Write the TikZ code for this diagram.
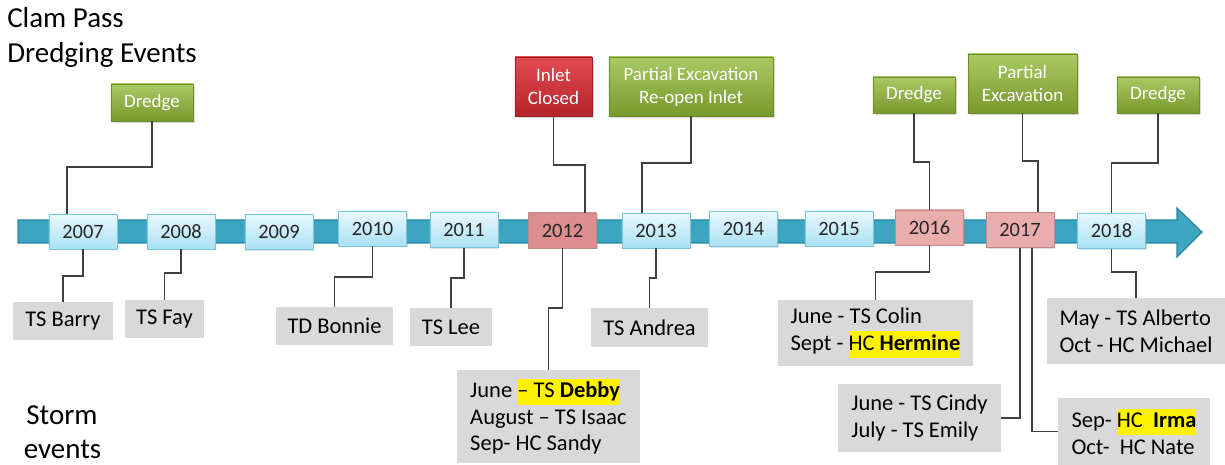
\documentclass[tikz,border=0pt]{standalone}
\usepackage{fontspec}
\setmainfont{Carlito}
\usepackage{xcolor}
\usepackage{tikz}
\usetikzlibrary{shadows}

\definecolor{bandblue}{HTML}{3CA5C1}
\definecolor{bandedge}{HTML}{2A86A0}
\definecolor{yeartop}{HTML}{EAF8FE}
\definecolor{yearbot}{HTML}{A9E0F3}
\definecolor{yearedge}{HTML}{79C6DF}
\definecolor{pinkdark}{HTML}{DC8D8D}
\definecolor{pinklight}{HTML}{E9ADAE}
\definecolor{pinkedge}{HTML}{C08A8C}
\definecolor{greentop}{HTML}{A9C963}
\definecolor{greenbot}{HTML}{78992D}
\definecolor{greenedge}{HTML}{6F8E2B}
\definecolor{redtop}{HTML}{E34B50}
\definecolor{redbot}{HTML}{B5242A}
\definecolor{rededge}{HTML}{9A1F24}
\definecolor{stormgray}{HTML}{D9D9D9}
\definecolor{linkgray}{HTML}{3F3F3F}

\newcommand{\hilite}[1]{{\setlength{\fboxsep}{0pt}\colorbox{yellow}{\strut#1}}}

\begin{document}
\begin{tikzpicture}[x=0.025cm, y=-0.025cm,
  year/.style={draw=yearedge, top color=yeartop, bottom color=yearbot,
    minimum width=1.7cm, minimum height=0.875cm, inner sep=0pt,
    font=\fontsize{14.5}{17}\selectfont, text=black!85,
    drop shadow={shadow xshift=1pt, shadow yshift=-1pt, opacity=0.25}},
  hot year/.style={year, draw=pinkedge, top color=pinklight, bottom color=pinklight},
  hotter year/.style={year, draw=pinkedge, top color=pinkdark, bottom color=pinkdark},
  event/.style={draw=greenedge, top color=greentop, bottom color=greenbot,
    text=white, align=center, inner sep=0pt,
    font=\fontsize{13.5}{16.4}\selectfont,
    drop shadow={shadow xshift=1.2pt, shadow yshift=-1.2pt, opacity=0.3}},
  closed/.style={event, draw=rededge, top color=redtop, bottom color=redbot},
  storm/.style={fill=stormgray, align=left, inner sep=0pt,
    font=\fontsize{16}{19}\selectfont},
  link/.style={draw=linkgray, line width=1.4pt},
  band/.style={fill=bandblue, draw=bandedge, line width=0.8pt},
  heading/.style={inner sep=0pt, font=\fontsize{20.6}{25}\selectfont}
]
\useasboundingbox (0,0) rectangle (1225,465);

% headings
\node[heading, anchor=base west] (ttlA) at (7,28) {Clam Pass};
\node[heading, anchor=base west] (ttlB) at (7,63) {Dredging Events};
\node[heading, anchor=base] (stA) at (62,425) {Storm};
\node[heading, anchor=base] (stB) at (62.5,459) {events};

% time line
\draw[band] (18,220) -- (1177,220) -- (1177,208) -- (1202,232)
  -- (1177,257) -- (1177,243) -- (18,243) -- cycle;

\node[year] (yr07) at (83,231.5) {2007};
\node[year] (yr08) at (181,231.5) {2008};
\node[year] (yr09) at (279,232) {2009};
\node[year] (yr10) at (372.5,228.5) {2010};
\node[year] (yr11) at (464,230) {2011};
\node[hotter year] (yr12) at (562.5,230.5) {2012};
\node[year] (yr13) at (656,230.5) {2013};
\node[year] (yr14) at (743.5,229) {2014};
\node[year] (yr15) at (839,228.5) {2015};
\node[hot year] (yr16) at (929.5,227.5) {2016};
\node[hot year] (yr17) at (1020,230) {2017};
\node[year] (yr18) at (1111.5,231) {2018};

% dredging events
\node[event, minimum width=2.05cm, minimum height=0.925cm] (ev07) at (152,102.5) {Dredge};
\node[closed, minimum width=1.925cm, minimum height=1.475cm] (ev12) at (553.5,86.5) {Inlet\\Closed};
\node[event, minimum width=4.1cm, minimum height=1.475cm] (ev13) at (691,86.5) {Partial Excavation\\Re-open Inlet};
\node[event, minimum width=2.05cm, minimum height=0.9cm] (ev16) at (914,95) {Dredge};
\node[event, minimum width=2.725cm, minimum height=1.475cm] (ev17) at (1022.5,83.5) {Partial\\Excavation};
\node[event, minimum width=2.05cm, minimum height=0.9cm] (ev18) at (1158,95) {Dredge};

% storm events
\node[storm, minimum width=2.5cm, minimum height=0.95cm] (ts07) at (63,321) {TS Barry};
\node[storm, minimum width=1.975cm, minimum height=0.95cm] (ts08) at (164.5,319) {TS Fay};
\node[storm, minimum width=2.925cm, minimum height=0.95cm] (ts10) at (334.5,326) {TD Bonnie};
\node[storm, minimum width=2.05cm, minimum height=0.95cm] (ts11) at (451,327) {TS Lee};
\node[storm, minimum width=4.575cm, minimum height=2.325cm] (ts12) at (548.5,416.5) {June \hilite{– TS \textbf{Debby}}\\
  August – TS Isaac\\
  Sep- HC Sandy};
\node[storm, minimum width=2.925cm, minimum height=0.975cm] (ts13) at (649.5,327.5) {TS Andrea};
\node[storm, minimum width=4.875cm, minimum height=1.65cm] (ts16) at (875.5,333) {June - TS Colin\\
  Sept - \hilite{HC \textbf{Hermine}}};
\node[storm, minimum width=4.075cm, minimum height=1.7cm] (ts17a) at (919.5,418) {June - TS Cindy\\
  July - TS Emily};
\node[storm, minimum width=3.8cm, minimum height=1.675cm] (ts17b) at (1134,431.5) {Sep- \hilite{HC\ \ \textbf{Irma}}\\
  Oct-\ \ HC Nate};
\node[storm, minimum width=4.45cm, minimum height=1.65cm] (ts18) at (1136,331) {May - TS Alberto\\
  Oct - HC Michael};

% links up
\draw[link] (ev07.south) -- ++(0,46) -| ([xshift=-0.4cm]yr07.north);
\draw[link] (ev12.south) -- ++(0,49) -| ([xshift=0.5625cm]yr12.north);
\draw[link] (ev13.south) -- ++(0,47) -| ([xshift=-0.35cm]yr13.north);
\draw[link] (ev16.south) -- ++(0,49) -| (yr16.north);
\draw[link] (ev17.south) -- ++(0,48) -| ([xshift=0.45cm]yr17.north);
\draw[link] (ev18.south) -- ++(0,50) -| (yr18.north);

% links down
\draw[link] (yr07.south) -- ++(0,27) -| (ts07.north);
\draw[link] (yr08.south) -- ++(0,24) -| (ts08.north);
\draw[link] (yr10.south) -- ++(0,31) -| (ts10.north);
\draw[link] (yr11.south) -- ++(0,30.5) -| (ts11.north);
\draw[link] (yr12.south) -- ++(0,60) -| (ts12.north);
\draw[link] (yr13.south) -- ++(0,30) -| (ts13.north);
\draw[link] (yr16.south) -- ++(0,27) -| (ts16.north);
\draw[link] (yr17.south) |- (ts17a.east);
\draw[link] ([xshift=0.3cm]yr17.south) |- (ts17b.west);
\draw[link] (yr18.south) -- ++(0,23.5) -| (ts18.north);
\end{tikzpicture}
\end{document}
